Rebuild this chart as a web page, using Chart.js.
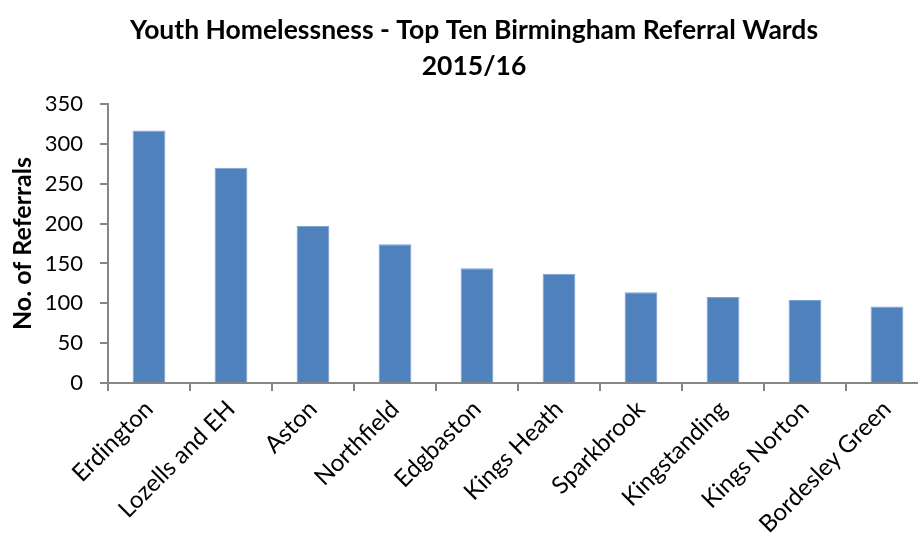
<!DOCTYPE html>
<html>
<head>
<meta charset="utf-8">
<script src="https://cdn.jsdelivr.net/npm/chart.js@4.4.0/dist/chart.umd.min.js"></script>
<style>
  html, body { margin: 0; padding: 0; background: #fff; overflow: hidden; }
  #wrap { width: 948px; height: 540px; }
</style>
</head>
<body>
<div id="wrap"><canvas id="chart"></canvas></div>
<script>
const wards = ['Erdington', 'Lozells and EH', 'Aston', 'Northfield', 'Edgbaston',
  'Kings Heath', 'Sparkbrook', 'Kingstanding', 'Kings Norton', 'Bordesley Green'];
const referrals = [317, 270, 197, 174, 144, 137, 114, 108, 104, 96];
const titleLines = ['Youth Homelessness - Top Ten Birmingham Referral Wards', '2015/16'];
const yAxisTitle = 'No. of Referrals';

const axisGrey = '#868686';
const barBlue = '#4F81BD';

const ctx = document.getElementById('chart').getContext('2d');
new Chart(ctx, {
  type: 'bar',
  data: {
    labels: wards,
    datasets: [{
      label: 'Referrals',
      data: referrals,
      backgroundColor: barBlue,
      borderColor: '#7FA3D3',
      borderWidth: 1,
      categoryPercentage: 0.4,
      barPercentage: 1.0
    }]
  },
  options: {
    responsive: true,
    maintainAspectRatio: false,
    animation: false,
    layout: { padding: 0 },
    plugins: {
      legend: { display: false },
      tooltip: { enabled: false },
      title: {
        display: true,
        text: titleLines,
        color: '#000',
        font: { family: 'Lato', size: 26.5, weight: 'bold', lineHeight: 1.36 },
        padding: { top: 12, bottom: 20 }
      }
    },
    scales: {
      x: {
        grid: {
          display: true,
          offset: true,
          drawOnChartArea: false,
          drawTicks: true,
          tickLength: 8,
          color: axisGrey,
          lineWidth: 2
        },
        border: { color: axisGrey, width: 2 },
        ticks: {
          color: '#000',
          font: { family: 'Lato', size: 24 },
          minRotation: 45,
          maxRotation: 45,
          padding: 4
        },
        afterFit: (scale) => { scale.height = 157; }
      },
      y: {
        min: 0,
        max: 350,
        ticks: {
          stepSize: 50,
          color: '#000',
          font: { family: 'Lato', size: 22 },
          padding: 17
        },
        grid: {
          display: true,
          drawOnChartArea: false,
          drawTicks: true,
          tickLength: 8,
          color: axisGrey,
          lineWidth: 2
        },
        border: { color: axisGrey, width: 2 },
        title: {
          display: true,
          text: yAxisTitle,
          color: '#000',
          font: { family: 'Lato', size: 25, weight: 'bold' },
          padding: { top: 8, bottom: 0 }
        },
        afterFit: (scale) => { scale.width = 108; }
      },
      // empty right-hand spacer so the plot stops short of the canvas edge
      spacer: {
        type: 'linear',
        position: 'right',
        ticks: { display: false },
        grid: { display: false },
        border: { display: false },
        afterFit: (scale) => { scale.width = 20; }
      }
    }
  }
});
</script>
</body>
</html>
